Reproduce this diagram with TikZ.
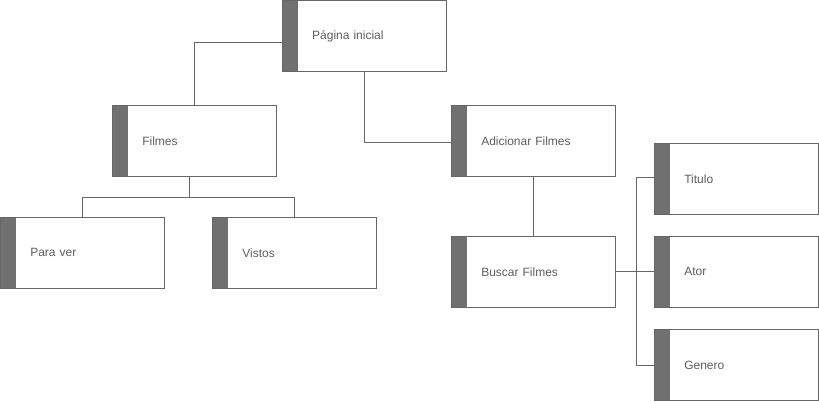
\documentclass[tikz,border=0pt]{standalone}
\usepackage{fontspec}
\setmainfont{Liberation Sans}
\usepackage{tikz}

\definecolor{cardline}{RGB}{102,102,102}
\definecolor{cardbar}{RGB}{112,112,112}
\definecolor{cardtext}{RGB}{94,94,94}

\tikzset{
  card/.style={draw=cardline, line width=0.75pt, fill=white, rectangle,
    minimum width=123pt, minimum height=53pt, text width=78pt, inner xsep=22.5pt,
    align=left, font=\fontsize{9pt}{11pt}\selectfont, text=cardtext,
    path picture={\fill[cardbar] (path picture bounding box.north west) rectangle ([xshift=12pt]path picture bounding box.south west);}},
  link/.style={draw=cardline, line width=0.75pt}
}

\begin{document}
\begin{tikzpicture}[x=0.75pt,y=0.75pt,yscale=-1,xscale=1]
        \useasboundingbox (0,0) rectangle (819,401);

        %Shape: Card [id:pag] 
        \node [card] (pag) at (364.2,36.1) {Página inicial};
        %Shape: Card [id:fil] 
        \node [card] (fil) at (194.3,140.8) {Filmes};
        %Shape: Card [id:pv] 
        \node [card] (pv) at (82.3,252.8) {Para ver};
        %Shape: Card [id:vis] 
        \node [card] (vis) at (294.3,252.8) {Vistos};
        %Shape: Card [id:adi] 
        \node [card] (adi) at (533.3,140.8) {Adicionar Filmes};
        %Shape: Card [id:bus] 
        \node [card] (bus) at (533.3,271.8) {Buscar Filmes};
        %Shape: Card [id:tit] 
        \node [card] (tit) at (736.3,178.8) {Titulo};
        %Shape: Card [id:ator] 
        \node [card] (ator) at (736.3,271.8) {Ator};
        %Shape: Card [id:gen] 
        \node [card] (gen) at (736.3,365) {Genero};

        %Straight Lines [id:pag-fil] 
        \draw [link] ([yshift=4.5pt]pag.west) -| (fil.north) ;
        %Straight Lines [id:pag-adi] 
        \draw [link] (pag.south) |- ([yshift=1.5pt]adi.west) ;
        %Straight Lines [id:fil-pv-vis] 
        \coordinate (filbus) at (189.3,197.3) ;
        \draw [link] ([xshift=-3.75pt]fil.south) -- (filbus) ;
        \draw [link] (pv.north) |- (filbus) -| (vis.north) ;
        %Straight Lines [id:adi-bus] 
        \draw [link] (adi.south) -- (bus.north) ;
        %Straight Lines [id:bus-ator] 
        \draw [link] (bus.east) -- (ator.west) ;
        %Straight Lines [id:tit-gen] 
        \draw [link] ([yshift=-0.8pt]tit.west) -- ++(-17.7,0) |- (gen.west) ;

\end{tikzpicture}
\end{document}
